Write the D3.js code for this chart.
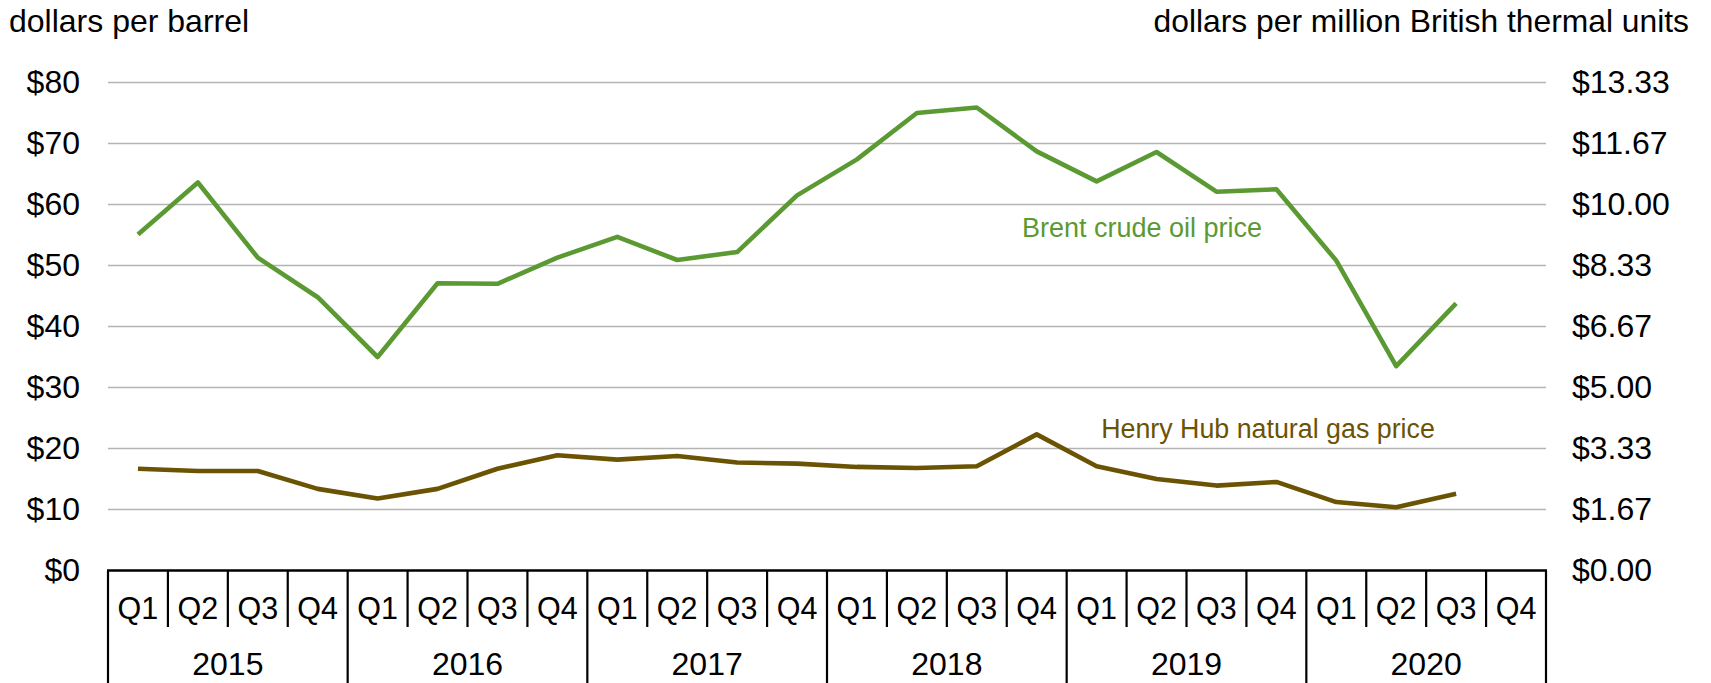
<!DOCTYPE html>
<html>
<head>
<meta charset="utf-8">
<script src="https://cdn.jsdelivr.net/npm/d3@7"></script>
<style>
  html, body { margin: 0; padding: 0; background: #fff; }
  svg { display: block; font-family: "Liberation Sans", Arial, sans-serif; }
</style>
</head>
<body>
<svg id="chart" width="1711" height="683"></svg>
<script>
// ---- data ----
const years = ["2015", "2016", "2017", "2018", "2019", "2020"];
const quarterNames = ["Q1", "Q2", "Q3", "Q4"];
// Brent crude oil price, dollars per barrel (2015Q1 .. 2020Q3)
const brent = [55.1, 63.6, 51.3, 44.8,
               35.0, 47.1, 47.0, 51.3,
               54.7, 50.9, 52.2, 61.5,
               67.4, 75.0, 75.9, 68.7,
               63.8, 68.6, 62.1, 62.5,
               50.8, 33.5, 43.8];
// Henry Hub natural gas price, dollars per MMBtu
const henry = [2.78, 2.72, 2.72, 2.23,
               1.97, 2.23, 2.78, 3.15,
               3.03, 3.13, 2.95, 2.92,
               2.83, 2.80, 2.85, 3.72,
               2.85, 2.50, 2.32, 2.42,
               1.87, 1.73, 2.10];
const leftTicks = [0, 10, 20, 30, 40, 50, 60, 70, 80];
const rightTicks = [0, 1.67, 3.33, 5.00, 6.67, 8.33, 10.00, 11.67, 13.33];
const leftTitle = "dollars per barrel";
const rightTitle = "dollars per million British thermal units";
const brentLabel = "Brent crude oil price";
const henryLabel = "Henry Hub natural gas price";

// ---- layout ----
const L = 108, R = 1546, T = 82.5, B = 570.5;
const qRowBottom = 627, yearRowBottom = 690;
const brentColor = "#5b9a32", henryColor = "#6b5304";
const FONT = '"Liberation Sans", Arial, sans-serif';

const svg = d3.select("#chart");

const quarters = [];
years.forEach(y => quarterNames.forEach(q => quarters.push(y + "-" + q)));

const x = d3.scaleBand().domain(quarters).range([L, R]).padding(0);
const yL = d3.scaleLinear().domain([0, 80]).range([B, T]);
const yR = d3.scaleLinear().domain([0, 80 / 6]).range([B, T]);

// gridlines
svg.append("g")
  .selectAll("line")
  .data(leftTicks.filter(d => d > 0))
  .join("line")
  .attr("x1", L).attr("x2", R)
  .attr("y1", d => yL(d)).attr("y2", d => yL(d))
  .attr("stroke", "#b4b4b4").attr("stroke-width", 1.6);

// left axis labels
const gl = svg.append("g").attr("transform", `translate(${L},0)`)
  .call(d3.axisLeft(yL).tickValues(leftTicks).tickFormat(d => "$" + d).tickSize(0).tickPadding(28));
gl.select(".domain").remove();
gl.selectAll("text").attr("font-size", 32).attr("fill", "#000").style("font-family", FONT);

// right axis labels
const gr = svg.append("g").attr("transform", `translate(${R},0)`)
  .call(d3.axisRight(yR).tickValues(rightTicks).tickFormat(d => "$" + d3.format(".2f")(d)).tickSize(0).tickPadding(26));
gr.select(".domain").remove();
gr.selectAll("text").attr("font-size", 32).attr("fill", "#000").style("font-family", FONT);

// category axis: top line
svg.append("line").attr("x1", L - 1).attr("x2", R + 1).attr("y1", B).attr("y2", B)
  .attr("stroke", "#000").attr("stroke-width", 2.5);

// quarter separators
const bounds = d3.range(quarters.length + 1).map(i => i === quarters.length ? R : x(quarters[i]));
svg.append("g").selectAll("line").data(bounds).join("line")
  .attr("x1", d => d).attr("x2", d => d)
  .attr("y1", B)
  .attr("y2", (d, i) => (i % 4 === 0) ? yearRowBottom : qRowBottom)
  .attr("stroke", "#000").attr("stroke-width", 2.2);

// quarter labels
svg.append("g").selectAll("text").data(quarters).join("text")
  .attr("x", d => x(d) + x.bandwidth() / 2)
  .attr("y", 608)
  .attr("text-anchor", "middle").attr("dominant-baseline", "central")
  .attr("font-size", 30.5).attr("fill", "#000")
  .text(d => d.split("-")[1]);

// year labels
svg.append("g").selectAll("text").data(years).join("text")
  .attr("x", y => (x(y + "-Q1") + x(y + "-Q4") + x.bandwidth()) / 2)
  .attr("y", 664)
  .attr("text-anchor", "middle").attr("dominant-baseline", "central")
  .attr("font-size", 32).attr("fill", "#000")
  .text(y => y);

// lines
const cx = i => x(quarters[i]) + x.bandwidth() / 2;
svg.append("path").datum(henry)
  .attr("fill", "none").attr("stroke", henryColor).attr("stroke-width", 4.6)
  .attr("stroke-linejoin", "round")
  .attr("d", d3.line().x((d, i) => cx(i)).y(d => yR(d)));
svg.append("path").datum(brent)
  .attr("fill", "none").attr("stroke", brentColor).attr("stroke-width", 4.6)
  .attr("stroke-linejoin", "round")
  .attr("d", d3.line().x((d, i) => cx(i)).y(d => yL(d)));

// series labels
svg.append("text").attr("x", 1142).attr("y", 228)
  .attr("text-anchor", "middle").attr("dominant-baseline", "central")
  .attr("font-size", 27).attr("fill", brentColor).text(brentLabel);
svg.append("text").attr("x", 1268).attr("y", 429)
  .attr("text-anchor", "middle").attr("dominant-baseline", "central")
  .attr("font-size", 26.8).attr("fill", henryColor).text(henryLabel);

// titles
svg.append("text").attr("x", 9).attr("y", 32)
  .attr("font-size", 32).attr("fill", "#000").text(leftTitle);
svg.append("text").attr("x", 1689).attr("y", 32).attr("text-anchor", "end")
  .attr("font-size", 31.8).attr("fill", "#000").text(rightTitle);
</script>
</body>
</html>
